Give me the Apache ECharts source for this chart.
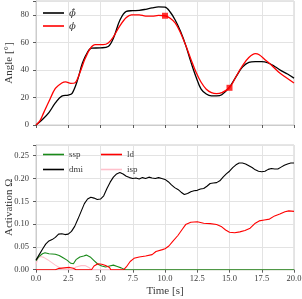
<!DOCTYPE html>
<html><head><meta charset="utf-8">
<script src="https://cdn.jsdelivr.net/npm/echarts@6/dist/echarts.min.js"></script>
<style>html,body{margin:0;padding:0;background:#fff}#c{width:302px;height:299px}</style>
</head><body><div id="c"></div>
<script>
// ---- Top chart: angle ----
const tHat = [0,0.5,1.0,1.5,2.0,2.5,2.8,3.2,3.6,4.0,4.3,5.0,5.6,6.0,6.5,7.0,7.5,8.0,8.5,9.0,9.5,10.0,10.4,10.8,11.2,11.6,12.0,12.4,12.8,13.2,13.6,14.0,14.4,15.0,15.5,16.0,16.5,17.0,17.5,18.0,18.5,19.0,19.5,20.0];
const phiHat = [0,4,9,16,21,21.7,23,32,45,53,55.8,56,57,63,76,82.5,83,83.2,84,85,85.7,85.5,82,76,68,58,46,35,26,22.5,21.2,21.2,22,27.5,35,42,45.5,46,46,45,42.5,39.5,37,34];
const tPhi = [0,0.3,0.6,1.0,1.5,2.0,2.3,2.7,3.0,3.4,3.8,4.2,4.6,5.2,5.6,6.0,6.5,7.0,7.4,8.0,8.5,9.0,9.5,10.0,10.4,10.8,11.2,11.6,12.0,12.4,12.8,13.2,13.6,14.0,14.4,15.0,15.5,16.0,16.5,17.0,17.3,17.8,18.3,18.8,19.3,20.0];
const phi = [0,3,9,17,26.5,30.5,31.3,30.2,30.5,38,48,55.5,58.3,58.3,59.5,64,72,78,80,80,79,79,79.5,79.3,77.5,74,67,58,48,38.5,31,26,23.5,22.8,23.5,27,35,43,49,51.8,51,47,43,38.5,35,30.5];
const markT = [10.0, 15.0];
const markV = [79.3, 27.0];
const angleTicks = [0,20,40,60,80];

// ---- Bottom chart: activation ----
const tDmi = [0,0.25,0.5,0.75,1.0,1.25,1.5,1.75,2.0,2.25,2.5,2.75,3.0,3.25,3.5,3.75,4.0,4.25,4.5,4.75,5.0,5.25,5.5,5.75,6.0,6.25,6.5,6.75,7.0,7.25,7.5,7.75,8.0,8.25,8.5,8.75,9.0,9.25,9.5,9.75,10.0,10.25,10.5,10.75,11.0,11.25,11.5,11.75,12.0,12.25,12.5,12.75,13.0,13.25,13.5,13.75,14.0,14.25,14.5,14.75,15.0,15.25,15.5,15.75,16.0,16.25,16.5,16.75,17.0,17.25,17.5,17.75,18.0,18.25,18.5,18.75,19.0,19.25,19.5,19.75,20.0];
const dmi = [0.021,0.033,0.045,0.056,0.063,0.066,0.071,0.078,0.079,0.077,0.078,0.084,0.095,0.111,0.128,0.145,0.155,0.159,0.157,0.154,0.155,0.162,0.178,0.192,0.203,0.210,0.213,0.210,0.205,0.202,0.200,0.201,0.199,0.202,0.200,0.203,0.201,0.200,0.202,0.200,0.198,0.193,0.186,0.180,0.176,0.170,0.165,0.167,0.171,0.173,0.174,0.177,0.178,0.183,0.189,0.190,0.191,0.195,0.203,0.210,0.216,0.224,0.230,0.234,0.234,0.232,0.228,0.224,0.219,0.216,0.215,0.216,0.220,0.222,0.221,0.221,0.225,0.229,0.232,0.234,0.234];
const tLd = [0,1.5,1.8,2.2,2.6,2.9,3.1,4.3,4.5,4.8,5.1,5.4,5.7,5.8,6.8,7.0,7.3,7.6,8.0,8.5,9.0,9.3,9.8,10.0,10.3,10.6,11.0,11.3,11.6,12.0,12.5,13.0,13.5,14.0,14.4,14.7,15.0,15.4,15.8,16.2,16.6,17.0,17.3,17.7,18.1,18.5,18.9,19.3,19.6,20.0];
const ld = [0,0,0.003,0.004,0.005,0.003,0,0,0.008,0.013,0.012,0.009,0.005,0,0,0.006,0.018,0.025,0.028,0.030,0.033,0.040,0.044,0.046,0.052,0.062,0.075,0.087,0.099,0.104,0.105,0.102,0.101,0.099,0.094,0.087,0.082,0.081,0.083,0.086,0.091,0.102,0.107,0.109,0.111,0.118,0.122,0.127,0.129,0.128];
const tSsp = [0,0.2,0.5,0.7,1.0,1.5,1.8,2.1,2.4,2.7,2.9,3.1,3.4,3.7,3.9,4.2,4.5,4.8,5.1,5.4,5.7,6.0,6.3,6.6,6.9,14.9,15.0,15.1,20.0];
const ssp = [0.020,0.028,0.035,0.037,0.035,0.034,0.031,0.026,0.021,0.014,0.013,0.022,0.028,0.030,0.032,0.028,0.020,0.012,0.008,0.006,0.008,0.010,0.007,0.004,0,0,0.002,0,0];
const tIsp = [0,0.15,0.35,0.6,0.9,1.2,1.5,1.8,2.1,2.8,3.1,3.5,3.8,4.1,4.3,20.0];
const isp = [0.012,0.025,0.029,0.027,0.022,0.016,0.010,0.005,0,0,0.006,0.009,0.009,0.005,0,0];
const actTicks = [0,0.05,0.10,0.15,0.20,0.25];
const timeTicks = [0,2.5,5,7.5,10,12.5,15,17.5,20];

const zip = (a, b) => a.map((x, i) => [x, b[i]]);
const FONT = 'Liberation Serif';
const TXT = '#3a3a3a';

const xBase = (gi, showLabel) => ({
  type: 'value', gridIndex: gi, min: 0, max: 20, interval: 2.5,
  axisLine: { show: true, lineStyle: { color: '#cccccc', width: 1 } },
  axisTick: { show: true, length: 3, lineStyle: { color: '#333', width: 0.8 } },
  axisLabel: { show: showLabel, margin: 5, fontFamily: FONT, fontSize: 8.5, color: TXT,
    formatter: v => v.toFixed(1) },
  splitLine: { show: true, lineStyle: { color: '#e3e3e3', width: 1 } }
});

const legendItem = (name, left, top, italic, size, font) => ({
  data: [{ name }], left, top, itemWidth: 21, itemHeight: 1.6, icon: 'rect', padding: 0,
  textStyle: { fontFamily: font || FONT, fontStyle: italic ? 'italic' : 'normal', fontSize: size, color: TXT }
});

const option = {
  animation: false,
  backgroundColor: '#ffffff',
  grid: [
    { left: 36, right: 8, top: 1, height: 124, show: true, borderColor: '#cccccc', borderWidth: 1, backgroundColor: 'transparent', outerBoundsMode: 'none', containLabel: false },
    { left: 36, right: 8, top: 145, height: 124.7, show: true, borderColor: '#cccccc', borderWidth: 1, backgroundColor: 'transparent', outerBoundsMode: 'none', containLabel: false }
  ],
  xAxis: [
    xBase(0, false),
    Object.assign(xBase(1, true), { name: 'Time [s]', nameLocation: 'middle', nameGap: 16, nameMoveOverlap: false,
      nameTextStyle: { fontFamily: FONT, fontSize: 11, color: TXT } })
  ],
  yAxis: [
    { type: 'value', gridIndex: 0, min: 0, max: 90, interval: 20,
      name: 'Angle [°]', nameLocation: 'middle', nameGap: 21, nameMoveOverlap: false,
      nameTextStyle: { fontFamily: FONT, fontSize: 11, color: TXT },
      axisLine: { show: true, lineStyle: { color: '#cccccc' } },
      axisTick: { show: true, length: 3, lineStyle: { color: '#333', width: 0.8 } },
      axisLabel: { margin: 7, fontFamily: FONT, fontSize: 8.5, color: TXT,
        formatter: v => angleTicks.includes(v) ? String(v) : '' },
      splitLine: { show: true, lineStyle: { color: '#e3e3e3', width: 1 } } },
    { type: 'value', gridIndex: 1, min: 0, max: 0.2735, interval: 0.05,
      name: 'Activation Ω', nameLocation: 'middle', nameGap: 21, nameMoveOverlap: false,
      nameTextStyle: { fontFamily: FONT, fontSize: 11, color: TXT },
      axisLine: { show: true, lineStyle: { color: '#cccccc' } },
      axisTick: { show: true, length: 3, lineStyle: { color: '#333', width: 0.8 } },
      axisLabel: { margin: 7, fontFamily: FONT, fontSize: 8.5, color: TXT,
        formatter: v => { const m = actTicks.find(t => Math.abs(t - v) < 1e-6); return m === undefined ? '' : m.toFixed(2); } },
      splitLine: { show: true, lineStyle: { color: '#e3e3e3', width: 1 } } }
  ],
  legend: [
    legendItem('ϕ̂', 43, 8, true, 10, 'DejaVu Serif'),
    legendItem('ϕ', 43, 21, true, 10, 'DejaVu Serif'),
    legendItem('ssp', 43, 150, false, 9),
    legendItem('dmi', 43, 165, false, 9),
    legendItem('ld', 101, 150, false, 9),
    legendItem('isp', 101, 165, false, 9)
  ],
  series: [
    { name: 'ϕ̂', type: 'line', xAxisIndex: 0, yAxisIndex: 0, data: zip(tHat, phiHat), smooth: 0.35,
      showSymbol: false, symbol: 'none', lineStyle: { color: '#000', width: 1.3 }, itemStyle: { color: '#000' } },
    { name: 'ϕ', type: 'line', xAxisIndex: 0, yAxisIndex: 0, data: zip(tPhi, phi), smooth: 0.35,
      showSymbol: false, symbol: 'none', lineStyle: { color: '#ff0000', width: 1.3 }, itemStyle: { color: '#ff0000' } },
    { name: 'marks', type: 'scatter', xAxisIndex: 0, yAxisIndex: 0, data: zip(markT, markV),
      symbol: 'rect', symbolSize: 6, itemStyle: { color: '#ff0000' }, z: 5 },
    { name: 'ssp', type: 'line', xAxisIndex: 1, yAxisIndex: 1, data: zip(tSsp, ssp),
      showSymbol: false, symbol: 'none', lineStyle: { color: '#1a8a1a', width: 1.1 }, itemStyle: { color: '#1a8a1a' } },
    { name: 'dmi', type: 'line', xAxisIndex: 1, yAxisIndex: 1, data: zip(tDmi, dmi),
      showSymbol: false, symbol: 'none', lineStyle: { color: '#000', width: 1.1 }, itemStyle: { color: '#000' } },
    { name: 'ld', type: 'line', xAxisIndex: 1, yAxisIndex: 1, data: zip(tLd, ld),
      showSymbol: false, symbol: 'none', lineStyle: { color: '#ff0000', width: 1.1 }, itemStyle: { color: '#ff0000' } },
    { name: 'isp', type: 'line', xAxisIndex: 1, yAxisIndex: 1, data: zip(tIsp, isp),
      showSymbol: false, symbol: 'none', lineStyle: { color: '#ffc0cb', width: 1.1 }, itemStyle: { color: '#ffc0cb' }, z: 1 }
  ]
};
const chart = echarts.init(document.getElementById('c'), null, { renderer: 'canvas' });
chart.setOption(option);
</script></body></html>
